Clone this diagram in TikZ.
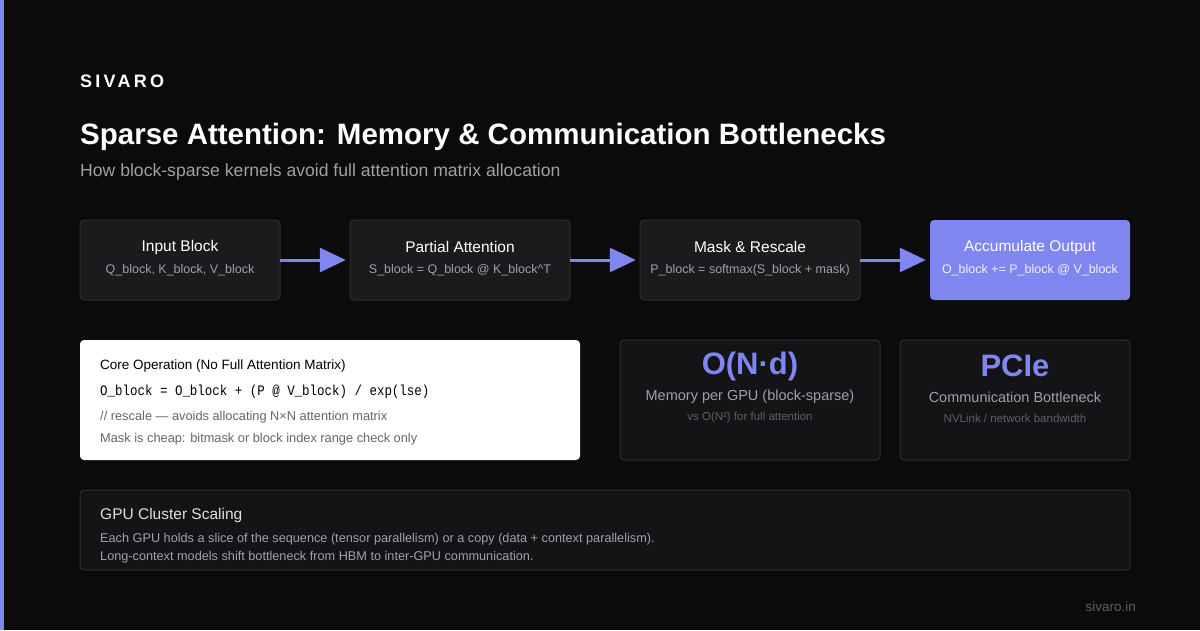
\documentclass[tikz,border=0pt]{standalone}
\usepackage{fontspec}
\setmainfont{Liberation Sans}
\setmonofont[FakeStretch=0.86]{Liberation Mono}
\usetikzlibrary{arrows.meta}
\definecolor{bg}{HTML}{0B0B0C}
\definecolor{card}{HTML}{1B1B1E}
\definecolor{cardb}{HTML}{2E2E33}
\definecolor{stat}{HTML}{141417}
\definecolor{acc}{HTML}{7F86F0}
\definecolor{sub}{HTML}{A0A0A6}
\definecolor{dim}{HTML}{5E5E64}
\newcommand{\fs}[1]{\fontsize{#1}{#1}\selectfont}
\begin{document}
\begin{tikzpicture}[x=1pt,y=-1pt,
 box/.style={draw=cardb,fill=card,rounded corners=4pt,line width=1pt},
 sbox/.style={draw=cardb,fill=stat,rounded corners=4pt,line width=1pt},
 flow/.style={draw=acc,line width=3pt,-{Triangle[length=26pt,width=24pt]},shorten >=4pt},
 ttl/.style={text=white,font=\fs{15.5}},
 st/.style={text=sub,font=\fs{12.5}},
 every node/.append style={inner sep=0pt}]
\fill[bg] (0,0) rectangle (1200,630);
\fill[acc] (0,0) rectangle (4,630);
\node[anchor=west,text=white,font=\fs{18}\bfseries\addfontfeature{LetterSpace=18}] (brand) at (80,81) {SIVARO};
\node[anchor=west,text=white,font=\fs{29.5}\bfseries] (title) at (80,137) {Sparse Attention: Memory \& Communication Bottlenecks};
\node[anchor=west,text=sub,font=\fs{17.6}] (subt) at (80,172) {How block-sparse kernels avoid full attention matrix allocation};
% flow boxes
\path[box] (80,220) rectangle (280,300);
\node[minimum width=200pt,minimum height=80pt] (b1) at (180,260) {};
\node[ttl] at (180,247) {Input Block};
\node[st] at (180,270) {Q\_block, K\_block, V\_block};
\path[box] (350,220) rectangle (570,300);
\node[minimum width=220pt,minimum height=80pt] (b2) at (460,260) {};
\node[ttl] at (460,247) {Partial Attention};
\node[st] at (460,270) {S\_block = Q\_block @ K\_block\^{}T};
\path[box] (640,220) rectangle (860,300);
\node[minimum width=220pt,minimum height=80pt] (b3) at (750,260) {};
\node[ttl] at (750,247) {Mask \& Rescale};
\node[st] at (750,270) {P\_block = softmax(S\_block + mask)};
\path[fill=acc,rounded corners=4pt] (930,220) rectangle (1130,300);
\node[minimum width=200pt,minimum height=80pt] (b4) at (1030,260) {};
\node[ttl] at (1030,247) {Accumulate Output};
\node[text=white!88!acc,font=\fs{12.5}] at (1030,270) {O\_block += P\_block @ V\_block};
\draw[flow] (b1.east) -- (b2.west);
\draw[flow] (b2.east) -- (b3.west);
\draw[flow] (b3.east) -- (b4.west);
% core
\path[fill=white,rounded corners=4pt] (80,340) rectangle (580,460);
\node[anchor=west,text=black,font=\fs{13.5}] (c1) at (100,366) {Core Operation (No Full Attention Matrix)};
\node[anchor=west,text=black,font=\ttfamily\fs{14.5}] (c2) at (100,392) {O\_block = O\_block + (P @ V\_block) / exp(lse)};
\node[anchor=west,text=black!60,font=\fs{12.8}] (c3) at (100,417) {// rescale — avoids allocating N×N attention matrix};
\node[anchor=west,text=black!60,font=\fs{12.8}] (c4) at (100,439) {Mask is cheap: bitmask or block index range check only};
% stats
\path[sbox] (620,340) rectangle (880,460);
\node[text=acc,font=\fs{31}\bfseries] (s1) at (750,366) {O(N·d)};
\node[text=sub,font=\fs{14.5}] at (750,397) {Memory per GPU (block-sparse)};
\node[text=dim,font=\fs{11.5}] at (750,418) {vs O(N²) for full attention};
\path[sbox] (900,340) rectangle (1130,460);
\node[text=acc,font=\fs{31}\bfseries] (s2) at (1015,366) {PCIe};
\node[text=sub,font=\fs{14.5}] at (1015,397) {Communication Bottleneck};
\node[text=dim,font=\fs{11.5}] at (1015,418) {NVLink / network bandwidth};
% gpu cluster
\path[sbox] (80,490) rectangle (1130,570);
\node[anchor=west,text=white!88!black,font=\fs{15.5}] (g1) at (100,515) {GPU Cluster Scaling};
\node[anchor=west,text=sub,font=\fs{12.7}] at (100,539) {Each GPU holds a slice of the sequence (tensor parallelism) or a copy (data + context parallelism).};
\node[anchor=west,text=sub,font=\fs{12.7}] at (100,557) {Long-context models shift bottleneck from HBM to inter-GPU communication.};
\node[anchor=east,text=dim,font=\fs{13.5}] (url) at (1136,607) {sivaro.in};
\end{tikzpicture}
\end{document}
